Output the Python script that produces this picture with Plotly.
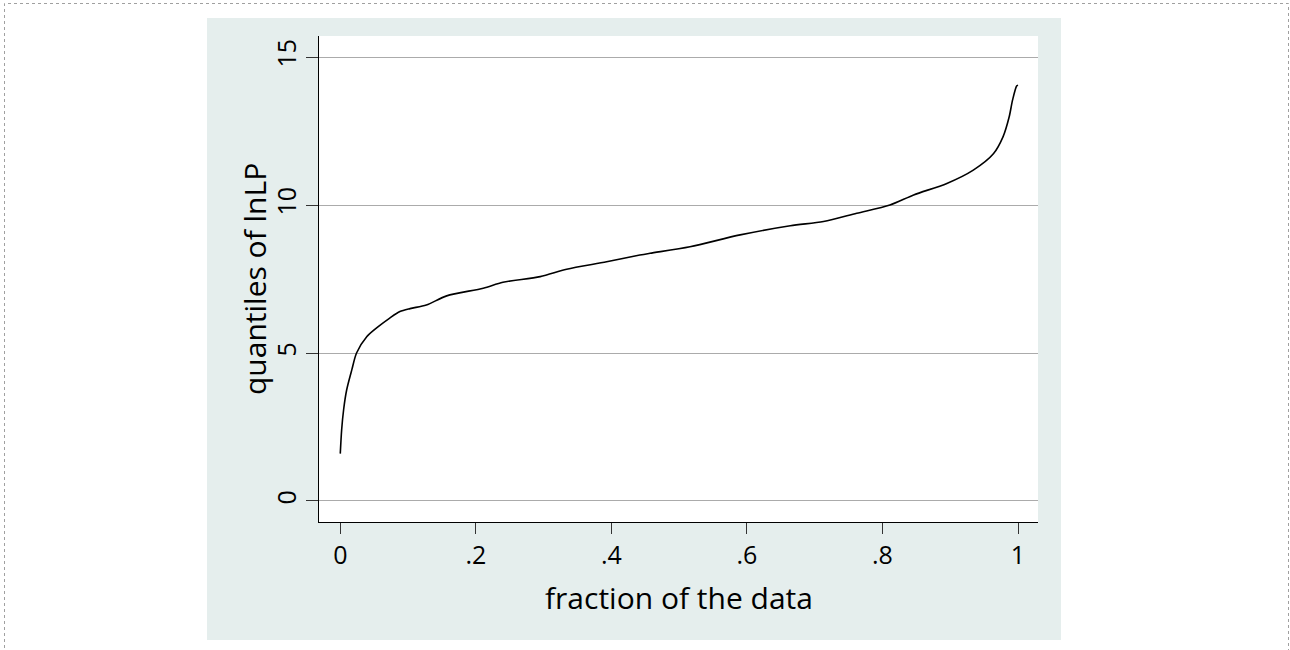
import plotly.graph_objects as go

# Data (quantile plot of lnLP)
fraction = [0.0, 0.002, 0.005, 0.0094, 0.017, 0.024, 0.039, 0.056, 0.073, 0.088,
            0.103, 0.127, 0.157, 0.211, 0.240, 0.295, 0.334, 0.393, 0.442, 0.457,
            0.516, 0.590, 0.664, 0.713, 0.762, 0.811, 0.846, 0.895, 0.934, 0.964,
            0.978, 0.987, 0.992, 0.998, 1.0]
quantiles = [1.6, 2.4, 3.1, 3.75, 4.43, 5.0, 5.55, 5.89, 6.18, 6.40,
             6.50, 6.62, 6.93, 7.19, 7.39, 7.58, 7.83, 8.08, 8.31, 8.37,
             8.59, 8.99, 9.30, 9.44, 9.72, 10.0, 10.34, 10.73, 11.18, 11.74,
             12.31, 12.98, 13.55, 14.02, 14.05]

x_tickvals = [0, 0.2, 0.4, 0.6, 0.8, 1]
x_ticktext = ["0", ".2", ".4", ".6", ".8", "1"]
y_tickvals = [0, 5, 10, 15]
y_ticktext = ["0", "5", "10", "15"]

x_title = "fraction of the data"
y_title = "quantiles of lnLP"

FONT = "Open Sans"
W, H = 1290, 650
L, R, T, B = 319, 1038, 36, 522  # plot area in pixels


def px_to_paper_x(px):
    return (px - L) / (R - L)


def px_to_paper_y(py):
    return (B - py) / (B - T)


fig = go.Figure()
fig.add_trace(go.Scatter(
    x=fraction, y=quantiles, mode="lines",
    line=dict(color="black", width=1.6, shape="spline", smoothing=0.8),
    hoverinfo="skip", showlegend=False,
))

shapes = [
    # outer dotted frame
    dict(type="rect", xref="paper", yref="paper",
         x0=px_to_paper_x(4.5), x1=px_to_paper_x(1288.5),
         y0=px_to_paper_y(670), y1=px_to_paper_y(3.5),
         line=dict(color="#a0a0a0", width=1, dash="dot"),
         fillcolor="rgba(0,0,0,0)", layer="below"),
    # graph region (light bluish gray)
    dict(type="rect", xref="paper", yref="paper",
         x0=px_to_paper_x(207), x1=px_to_paper_x(1061),
         y0=px_to_paper_y(640), y1=px_to_paper_y(18),
         line=dict(width=0), fillcolor="#e5eeed", layer="below"),
    # plot region (white)
    dict(type="rect", xref="paper", yref="paper",
         x0=0, x1=1, y0=0, y1=1,
         line=dict(width=0), fillcolor="white", layer="below"),
]

annotations = [
    dict(text=x_title, xref="paper", yref="paper",
         x=0.5, y=px_to_paper_y(597), xanchor="center", yanchor="middle",
         showarrow=False, font=dict(family=FONT, size=30, color="black")),
    dict(text=y_title, xref="paper", yref="paper",
         x=px_to_paper_x(254), y=0.5, xanchor="center", yanchor="middle",
         textangle=-90, showarrow=False,
         font=dict(family=FONT, size=30, color="black")),
]

fig.update_layout(
    width=W, height=H,
    margin=dict(l=L, r=W - R, t=T, b=H - B, pad=0),
    paper_bgcolor="white",
    plot_bgcolor="rgba(0,0,0,0)",
    shapes=shapes,
    annotations=annotations,
    font=dict(family=FONT, color="black"),
    xaxis=dict(
        range=[-0.0314, 1.0295],
        tickvals=x_tickvals, ticktext=x_ticktext,
        ticks="outside", ticklen=11, tickwidth=1.3, tickcolor="#333333",
        showgrid=False, zeroline=False,
        showline=True, linecolor="black", linewidth=1.3,
        tickfont=dict(family=FONT, size=25, color="black"),
    ),
    yaxis=dict(
        range=[-0.71, 15.71],
        tickvals=y_tickvals, ticktext=y_ticktext,
        ticks="outside", ticklen=12, tickwidth=1.3, tickcolor="#333333",
        tickangle=-90,
        showgrid=True, gridcolor="#ababab", gridwidth=1.2,
        zeroline=False,
        showline=True, linecolor="black", linewidth=1.3,
        tickfont=dict(family=FONT, size=25, color="black"),
    ),
)

fig.write_html("out.html")
